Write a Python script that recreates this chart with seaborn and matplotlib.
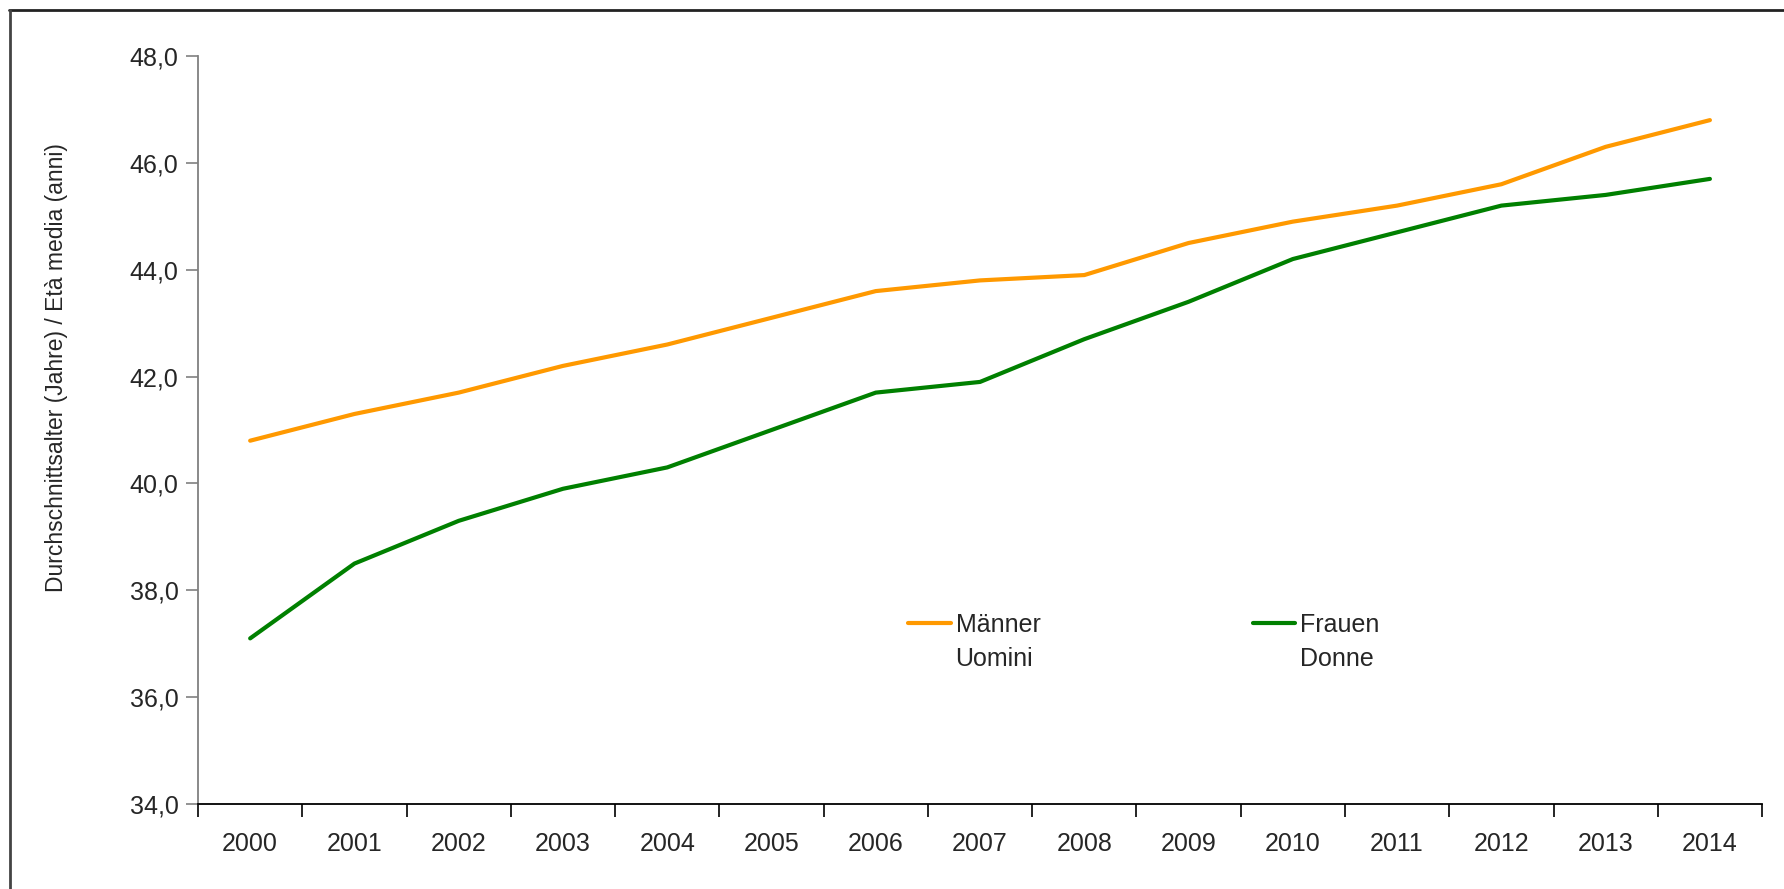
import matplotlib
matplotlib.use("Agg")
import matplotlib.pyplot as plt
from matplotlib.lines import Line2D
from matplotlib.ticker import FixedLocator, FuncFormatter
import seaborn as sns
import pandas as pd

years = ["2000", "2001", "2002", "2003", "2004", "2005", "2006", "2007",
         "2008", "2009", "2010", "2011", "2012", "2013", "2014"]
maenner = [40.8, 41.3, 41.7, 42.2, 42.6, 43.1, 43.6, 43.8, 43.9, 44.5,
           44.9, 45.2, 45.6, 46.3, 46.8]
frauen = [37.1, 38.5, 39.3, 39.9, 40.3, 41.0, 41.7, 41.9, 42.7, 43.4,
          44.2, 44.7, 45.2, 45.4, 45.7]
series_de = ["Männer", "Frauen"]
series_it = ["Uomini", "Donne"]
colors = ["#FF9900", "#008000"]

sns.set_style("white")
plt.rcParams["font.family"] = ["Liberation Sans", "DejaVu Sans"]
FS = 18
W, H = 1784, 889

df = pd.DataFrame({
    "pos": list(range(len(years))) * 2,
    "value": maenner + frauen,
    "series": [series_de[0]] * len(years) + [series_de[1]] * len(years),
})

fig = plt.figure(figsize=(W / 100, H / 100), dpi=100)
ax = fig.add_axes([0.111, 0.0956, 0.8767, 0.8414])

sns.lineplot(data=df, x="pos", y="value", hue="series", palette=colors,
             linewidth=3, ax=ax, legend=False, sort=False)

ax.set_xlim(-0.5, len(years) - 0.5)
ax.set_ylim(34, 48)

# category boundaries carry the tick marks, centres carry the labels
ax.xaxis.set_major_locator(FixedLocator([i - 0.5 for i in range(len(years) + 1)]))
ax.xaxis.set_minor_locator(FixedLocator(list(range(len(years)))))
ax.set_xticklabels([], minor=False)
ax.set_xticklabels(years, minor=True)
ax.tick_params(axis="x", which="major", length=9, width=1.2, color="#000000",
               direction="out", bottom=True)
ax.tick_params(axis="x", which="minor", length=0, pad=20, labelsize=FS)

ax.set_yticks(range(34, 49, 2))
ax.yaxis.set_major_formatter(FuncFormatter(lambda v, p: f"{v:.1f}".replace(".", ",")))
ax.tick_params(axis="y", length=9, width=1.2, color="#808080", direction="out",
               left=True, pad=5, labelsize=FS)

for s in ["top", "right"]:
    ax.spines[s].set_visible(False)
ax.spines["left"].set_color("#808080")
ax.spines["left"].set_linewidth(1.3)
ax.spines["bottom"].set_color("#000000")
ax.spines["bottom"].set_linewidth(1.3)

ax.set_xlabel("")
ax.set_ylabel("Durchschnittsalter (Jahre) / Età media (anni)", fontsize=16.5)
ax.yaxis.set_label_coords(-0.083, 0.583)

handles = [Line2D([0], [0], color=c, linewidth=3) for c in colors]
leg = ax.legend(handles, series_de, ncol=2, frameon=False, fontsize=FS,
                loc="upper left", bbox_to_anchor=(0.454, 0.256),
                borderaxespad=0, borderpad=0,
                handlelength=1.7, handletextpad=0.2, columnspacing=8.5)

# second (Italian) line of each legend entry, set under the German label
fig.canvas.draw()
for txt, it in zip(leg.get_texts(), series_it):
    bb = txt.get_window_extent()
    fig.text(bb.x0 / W, (bb.y0 - 34) / H, it, ha="left", va="bottom",
             fontsize=FS, color=txt.get_color())

# outer frame of the chart area
fig.add_artist(Line2D([9 / W, 1.0], [1 - 10 / H, 1 - 10 / H],
                      transform=fig.transFigure, color="#222222", linewidth=2))
fig.add_artist(Line2D([10 / W, 10 / W], [1 - 10 / H, 0.0],
                      transform=fig.transFigure, color="#444444", linewidth=2))

fig.savefig("out.png", dpi=100, facecolor="white")
